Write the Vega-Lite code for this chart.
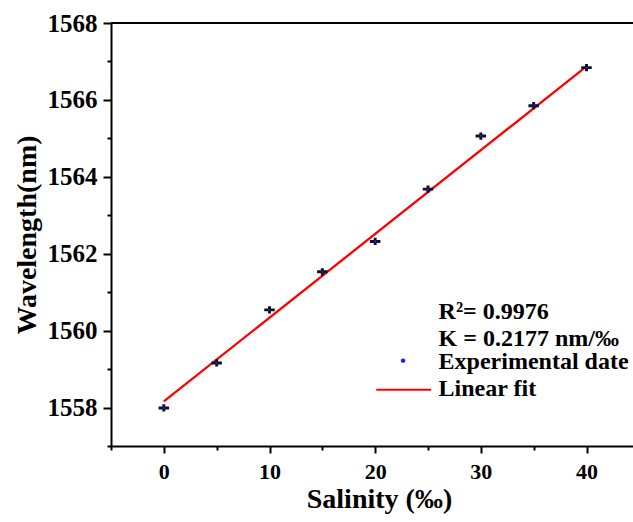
{
  "$schema": "https://vega.github.io/schema/vega-lite/v6.json",
  "width": 522,
  "height": 423,
  "autosize": "none",
  "padding": {"left": 111, "top": 23, "right": 0, "bottom": 76},
  "background": "white",
  "config": {
    "view": {"stroke": null},
    "font": "Liberation Serif",
    "axis": {"grid": false, "domainColor": "black", "domainWidth": 2, "tickColor": "black", "tickWidth": 2, "labelColor": "black", "titleColor": "black", "labelFont": "Liberation Serif", "titleFont": "Liberation Serif", "labelFontWeight": "bold", "titleFontWeight": "bold"}
  },
  "datasets": {
    "meas": [
      {"salinity": 0, "wavelength": 1557.99},
      {"salinity": 5, "wavelength": 1559.16},
      {"salinity": 10, "wavelength": 1560.54},
      {"salinity": 15, "wavelength": 1561.53},
      {"salinity": 20, "wavelength": 1562.32},
      {"salinity": 25, "wavelength": 1563.68},
      {"salinity": 30, "wavelength": 1565.06},
      {"salinity": 35, "wavelength": 1565.85},
      {"salinity": 40, "wavelength": 1566.84}
    ],
    "fit": [
      {"salinity": 0, "wavelength": 1558.16},
      {"salinity": 40, "wavelength": 1566.87}
    ]
  },
  "resolve": {"axis": {"y": "independent"}},
  "layer": [
    {
      "data": {"name": "fit"},
      "mark": {"type": "line", "color": "#ff0000", "strokeWidth": 2.3},
      "encoding": {
        "x": {"field": "salinity", "type": "quantitative", "scale": {"domain": [-5, 44.4], "nice": false, "zero": false},
          "axis": {"title": "Salinity (‰)", "titleX": 268, "values": [-5, 0, 5, 10, 15, 20, 25, 30, 35, 40], "labelExpr": "datum.value % 10 === 0 ? datum.label : ''", "tickSize": {"condition": {"test": "datum.value % 10 !== 0", "value": 4}, "value": 7}, "labelFontSize": 22, "labelPadding": 8, "titleFontSize": 28, "titlePadding": 3, "labelFlush": false, "labelOverlap": false}},
        "y": {"field": "wavelength", "type": "quantitative", "scale": {"domain": [1557, 1568], "nice": false, "zero": false},
          "axis": {"orient": "left", "title": "Wavelength(nm)", "values": [1558, 1560, 1562, 1564, 1566, 1568], "format": ".0f", "tickSize": 8, "labelFontSize": 25, "labelPadding": 6, "titleFontSize": 28, "titlePadding": 6, "labelFlush": false, "labelOverlap": false}}
      }
    },
    {
      "data": {"values": [{"edge": "top"}]},
      "mark": {"type": "rule", "color": "black", "strokeWidth": 2},
      "encoding": {"x": {"datum": -5}, "x2": {"datum": 44.4}, "y": {"datum": 1568, "type": "quantitative", "axis": {"orient": "left", "values": [1557, 1559, 1561, 1563, 1565, 1567], "tickSize": 4, "labels": false, "domain": false, "title": null}}}
    },
    {
      "data": {"name": "meas"},
      "mark": {"type": "point", "shape": "M-1,-0.28H1V0.28H-1Z M-0.28,-0.7H0.28V0.7H-0.28Z", "filled": true, "color": "#111122", "opacity": 1, "size": 110},
      "encoding": {
        "x": {"field": "salinity", "type": "quantitative"},
        "y": {"field": "wavelength", "type": "quantitative", "axis": null}
      }
    },
    {
      "data": {"name": "meas"},
      "mark": {"type": "point", "shape": "circle", "filled": true, "color": "#1a1aff", "opacity": 1, "size": 5},
      "encoding": {
        "x": {"field": "salinity", "type": "quantitative"},
        "y": {"field": "wavelength", "type": "quantitative", "axis": null}
      }
    },
    {
      "data": {"values": [{"t": "R²= 0.9976"}]},
      "mark": {"type": "text", "align": "left", "baseline": "alphabetic", "fontSize": 24, "fontWeight": "bold", "font": "Liberation Serif", "color": "black"},
      "encoding": {"x": {"datum": 26.0}, "y": {"datum": 1560.31, "axis": null}, "text": {"field": "t"}}
    },
    {
      "data": {"values": [{"t": "K = 0.2177 nm/‰"}]},
      "mark": {"type": "text", "align": "left", "baseline": "alphabetic", "fontSize": 24, "fontWeight": "bold", "font": "Liberation Serif", "color": "black"},
      "encoding": {"x": {"datum": 26.0}, "y": {"datum": 1559.61, "axis": null}, "text": {"field": "t"}}
    },
    {
      "data": {"values": [{"t": "Experimental date"}]},
      "mark": {"type": "text", "align": "left", "baseline": "alphabetic", "fontSize": 24, "fontWeight": "bold", "font": "Liberation Serif", "color": "black"},
      "encoding": {"x": {"datum": 26.0}, "y": {"datum": 1559.0, "axis": null}, "text": {"field": "t"}}
    },
    {
      "data": {"values": [{"t": "Linear fit"}]},
      "mark": {"type": "text", "align": "left", "baseline": "alphabetic", "fontSize": 24, "fontWeight": "bold", "font": "Liberation Serif", "color": "black"},
      "encoding": {"x": {"datum": 26.0}, "y": {"datum": 1558.31, "axis": null}, "text": {"field": "t"}}
    },
    {
      "data": {"values": [{"k": "Experimental date"}]},
      "mark": {"type": "point", "shape": "circle", "filled": true, "color": "#1a1aff", "opacity": 1, "size": 20},
      "encoding": {"x": {"datum": 22.64}, "y": {"datum": 1559.22, "axis": null}}
    },
    {
      "data": {"values": [{"k": "Linear fit"}]},
      "mark": {"type": "rule", "color": "#ff0000", "strokeWidth": 2},
      "encoding": {"x": {"datum": 20.1}, "x2": {"datum": 25.3}, "y": {"datum": 1558.46, "axis": null}}
    }
  ]
}
